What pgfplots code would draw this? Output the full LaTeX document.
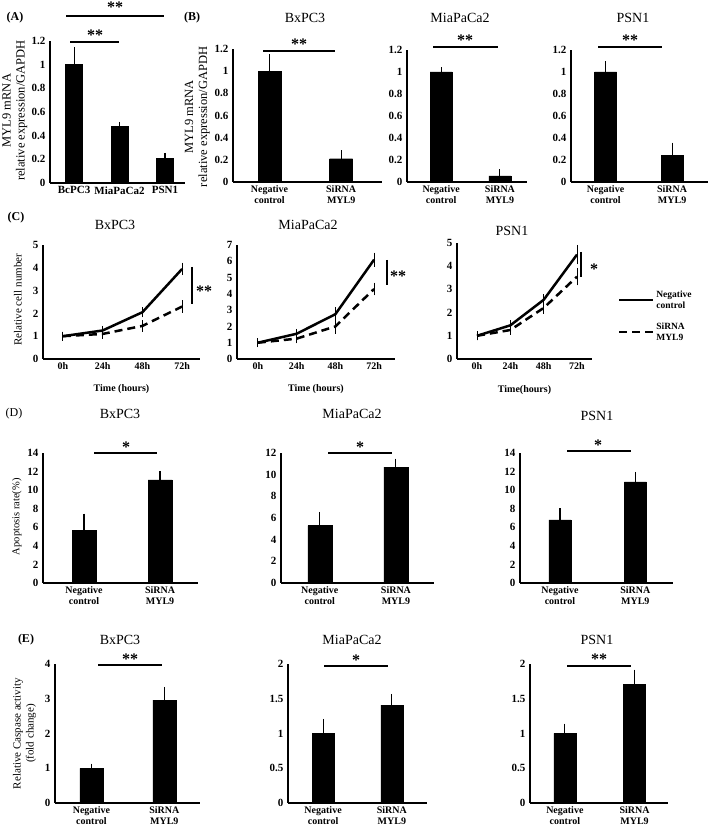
\documentclass[border=0pt]{standalone}
\usepackage{fontspec}
\setmainfont{Liberation Serif}
\usepackage{pgfplots}
\pgfplotsset{compat=1.18}
\pgfplotsset{
 base/.style={
  scale only axis, anchor=south west, clip=false,
  axis x line*=bottom, axis y line*=left,
  axis line style={line width=1.3pt, -},
  every outer x axis line/.append style={-},
  every outer y axis line/.append style={-},
  major tick length=0pt,
  /pgf/number format/assume math mode=true,
  yticklabel style={font=\bfseries\fontsize{11}{12}\selectfont, xshift=-1pt},
  xticklabel style={font=\bfseries\fontsize{10}{11}\selectfont, align=center},
  ymin=0,
 },
 barax/.style={base, ybar, xtick={0,1}, xticklabels={{Negative\\control},{SiRNA\\MYL9}}},
 bars/.style={fill=black, draw=black,
   error bars/y dir=both, error bars/y explicit,
   error bars/error bar style={line width=1.1pt, black},
   error bars/error mark options={line width=1.1pt, black, mark size=3.5pt}},
 solidl/.style={black, line width=2.5pt,
   error bars/y dir=both, error bars/y explicit,
   error bars/error bar style={line width=1pt, solid},
   error bars/error mark options={line width=1pt, mark size=4pt, solid}},
 dashl/.style={black, line width=2.5pt, dash pattern=on 8pt off 5pt,
   error bars/y dir=both, error bars/y explicit,
   error bars/error bar style={line width=1pt, solid},
   error bars/error mark options={line width=1pt, mark size=4pt, solid}},
 cax/.style={base, xtick={0,1,2,3}, xticklabels={0h,24h,48h,72h},
   xlabel style={font=\bfseries\fontsize{10}{12}\selectfont, at={(axis description cs:0.5,-0.265)}, anchor=center}},
}
\newcommand{\ttl}{\fontsize{14}{16}\selectfont}
\newcommand{\str}{\bfseries\fontsize{16}{16}\selectfont}
\newcommand{\pl}{\bfseries\fontsize{12}{14}\selectfont}
\begin{document}
\begin{tikzpicture}[x=1pt,y=1pt]
% ---------------- (A)
\begin{axis}[base, ybar, at={(50pt,651pt)}, width=135pt, height=142pt,
  xmin=-0.53, xmax=2.44, ymax=1.2, bar width=17pt,
  xtick={0,1,2}, xticklabels={BcPC3,MiaPaCa2,PSN1},
  xticklabel style={font=\bfseries\fontsize{11}{12}\selectfont},
  ytick={0,0.2,0.4,0.6,0.8,1,1.2},
  ylabel={MYL9 mRNA\\relative expression/GAPDH},
  ylabel style={align=center, font=\fontsize{12.5}{14}\selectfont, at={(axis description cs:-0.26,0.51)}, anchor=center}]
\addplot[bars] coordinates {(0,1.0) +- (0,0.12) (1,0.48) +- (0,0.006) (2,0.21) +- (0,0.015)};
\end{axis}
% ---------------- (B)
\begin{axis}[barax, at={(233pt,652pt)}, width=149pt, height=133pt,
  xmin=-0.51, xmax=1.57, ymax=1.2, bar width=23pt,
  ytick={0,0.2,0.4,0.6,0.8,1,1.2},
  ylabel={MYL9 mRNA\\relative expression/GAPDH},
  ylabel style={align=center, font=\fontsize{12.5}{14}\selectfont, at={(axis description cs:-0.24,0.49)}, anchor=center}]
\addplot[bars] coordinates {(0,1.0) +- (0,0.12) (1,0.21) +- (0,0.045)};
\end{axis}
\begin{axis}[barax, at={(407pt,652pt)}, width=120pt, height=132pt,
  xmin=-0.58, xmax=1.46, ymax=1.2, bar width=22pt,
  ytick={0,0.2,0.4,0.6,0.8,1,1.2}]
\addplot[bars] coordinates {(0,1.0) +- (0,0.01) (1,0.055) +- (0,0.03)};
\end{axis}
\begin{axis}[barax, at={(571pt,652pt)}, width=137pt, height=132pt,
  xmin=-0.52, xmax=1.54, ymax=1.2, bar width=22pt,
  ytick={0,0.2,0.4,0.6,0.8,1,1.2}]
\addplot[bars] coordinates {(0,1.0) +- (0,0.065) (1,0.24) +- (0,0.085)};
\end{axis}
% ---------------- (C)
\begin{axis}[cax, at={(43pt,475pt)}, width=157pt, height=114pt,
  xmin=-0.5, xmax=3.45, ymax=5, ytick={0,1,2,3,4,5},
  xlabel={Time (hours)},
  ylabel={Relative cell number},
  ylabel style={font=\fontsize{11}{12}\selectfont, at={(axis description cs:-0.16,0.52)}, anchor=center}]
\addplot[solidl] coordinates {(0,1.0) +- (0,0.02) (1,1.25) +- (0,0.03) (2,2.05) +- (0,0.05) (3,3.95) +- (0,0.1)};
\addplot[dashl] coordinates {(0,1.0) +- (0,0.02) (1,1.1) +- (0,0.03) (2,1.45) +- (0,0.08) (3,2.3) +- (0,0.1)};
\end{axis}
\begin{axis}[cax, at={(237pt,475pt)}, width=158pt, height=114pt,
  xmin=-0.54, xmax=3.54, ymax=7, ytick={0,1,2,3,4,5,6,7},
  xlabel={Time (hours)}]
\addplot[solidl] coordinates {(0,1.0) +- (0,0.02) (1,1.55) +- (0,0.05) (2,2.75) +- (0,0.2) (3,6.1) +- (0,0.18)};
\addplot[dashl] coordinates {(0,1.0) +- (0,0.02) (1,1.25) +- (0,0.05) (2,2.0) +- (0,0.2) (3,4.3) +- (0,0.15)};
\end{axis}
\begin{axis}[cax, at={(457pt,475pt)}, width=135pt, height=116pt,
  xmin=-0.6, xmax=3.45, ymax=5, ytick={0,1,2,3,4,5},
  xlabel={Time(hours)},
  legend style={at={(axis description cs:1.19,0.61)}, anchor=north west, draw=none, fill=none,
    inner sep=0pt, font=\bfseries\fontsize{9.5}{11}\selectfont,
    cells={align=left, anchor=west}, row sep=9pt},
  legend image code/.code={\draw[#1] (0pt,0pt) -- (34pt,0pt);}]
\addplot[solidl, forget plot] coordinates {(0,1.0) +- (0,0.02) (1,1.45) +- (0,0.04) (2,2.55) +- (0,0.08) (3,4.5) +- (0,0.25)};
\addplot[dashl, forget plot] coordinates {(0,1.0) +- (0,0.02) (1,1.25) +- (0,0.04) (2,2.2) +- (0,0.08) (3,3.55) +- (0,0.2)};
\addlegendimage{black, line width=2.5pt}
\addlegendentry{Negative\\control}
\addlegendimage{black, line width=2.5pt, dash pattern=on 8pt off 5pt}
\addlegendentry{SiRNA\\MYL9}
\end{axis}
% ---------------- (D)
\begin{axis}[barax, at={(43pt,251pt)}, width=155pt, height=130pt,
  xmin=-0.54, xmax=1.5, ymax=14, bar width=24pt, ytick={0,2,...,14},
  ylabel={Apoptosis rate(\%)},
  ylabel style={font=\fontsize{10.5}{12}\selectfont, at={(axis description cs:-0.168,0.51)}, anchor=center}]
\addplot[bars] coordinates {(0,5.7) +- (0,1.4) (1,11.1) +- (0,0.6)};
\end{axis}
\begin{axis}[barax, at={(281pt,251pt)}, width=153pt, height=130pt,
  xmin=-0.51, xmax=1.5, ymax=12, bar width=24pt, ytick={0,2,...,12}]
\addplot[bars] coordinates {(0,5.3) +- (0,0.95) (1,10.7) +- (0,0.45)};
\end{axis}
\begin{axis}[barax, at={(520pt,251pt)}, width=153pt, height=130pt,
  xmin=-0.53, xmax=1.5, ymax=14, bar width=22pt, ytick={0,2,...,14}]
\addplot[bars] coordinates {(0,6.8) +- (0,0.85) (1,10.9) +- (0,0.7)};
\end{axis}
% ---------------- (E)
\begin{axis}[barax, at={(55pt,31pt)}, width=145pt, height=139pt,
  xmin=-0.5, xmax=1.49, ymax=4, bar width=23pt, ytick={0,1,2,3,4},
  ylabel={Relative Caspase activity\\(fold change)},
  ylabel style={align=center, font=\fontsize{11}{13}\selectfont, at={(axis description cs:-0.21,0.5)}, anchor=center}]
\addplot[bars] coordinates {(0,1.0) +- (0,0.03) (1,2.96) +- (0,0.28)};
\end{axis}
\begin{axis}[barax, at={(288pt,31pt)}, width=139pt, height=139pt,
  xmin=-0.51, xmax=1.51, ymax=2, bar width=22pt, ytick={0,0.5,1,1.5,2}]
\addplot[bars] coordinates {(0,1.0) +- (0,0.16) (1,1.41) +- (0,0.11)};
\end{axis}
\begin{axis}[barax, at={(530pt,31pt)}, width=138pt, height=139pt,
  xmin=-0.5, xmax=1.48, ymax=2, bar width=22pt, ytick={0,0.5,1,1.5,2}]
\addplot[bars] coordinates {(0,1.0) +- (0,0.09) (1,1.71) +- (0,0.16)};
\end{axis}
% ---------------- annotations
\node[font=\pl] at (15,816) {(A)};
\node[font=\pl] at (192,816) {(B)};
\node[font=\pl] at (16,616) {(C)};
\node[font=\fontsize{12}{14}\selectfont] at (14,420) {(D)};
\node[font=\pl] at (26,194) {(E)};
\node[font=\ttl] at (305,816) {BxPC3};
\node[font=\ttl] at (460,816) {MiaPaCa2};
\node[font=\ttl] at (633,816) {PSN1};
\node[font=\ttl] at (115,609) {BxPC3};
\node[font=\ttl] at (308,609) {MiaPaCa2};
\node[font=\ttl] at (512,603) {PSN1};
\node[font=\ttl] at (120,420) {BxPC3};
\node[font=\ttl] at (352,420) {MiaPaCa2};
\node[font=\ttl] at (597,418) {PSN1};
\node[font=\ttl] at (120,194) {BxPC3};
\node[font=\ttl] at (352,194) {MiaPaCa2};
\node[font=\ttl] at (597,194) {PSN1};
\begin{scope}[line width=1.3pt]
\draw (66,818) -- (164,818);
\draw (70,792) -- (119,792);
\draw (263,783) -- (335,783);
\draw (433,787) -- (498,787);
\draw (598,787) -- (662,787);
\draw (192,567) -- (192,530);
\draw (387,574) -- (387,549);
\draw (581,582) -- (581,557);
\draw (94,381) -- (157,381);
\draw (328,381) -- (392,381);
\draw (567,383) -- (631,383);
\draw (98,169) -- (162,169);
\draw (324,168) -- (388,168);
\draw (567,168) -- (631,168);
\end{scope}
\node[font=\str, anchor=base] at (115,821) {**};
\node[font=\str, anchor=base] at (95,793) {**};
\node[font=\str, anchor=base] at (299,784) {**};
\node[font=\str, anchor=base] at (465,788) {**};
\node[font=\str, anchor=base] at (630,788) {**};
\node[font=\str, anchor=base] at (204,537) {**};
\node[font=\str, anchor=base] at (398,552) {**};
\node[font=\str, anchor=base] at (594,559) {*};
\node[font=\str, anchor=base] at (126,381) {*};
\node[font=\str, anchor=base] at (360,381) {*};
\node[font=\str, anchor=base] at (598,383) {*};
\node[font=\str, anchor=base] at (130,169) {**};
\node[font=\str, anchor=base] at (356,168) {*};
\node[font=\str, anchor=base] at (599,169) {**};
\pgfresetboundingbox
\path[use as bounding box] (0,0) rectangle (709,834);
\end{tikzpicture}
\end{document}
